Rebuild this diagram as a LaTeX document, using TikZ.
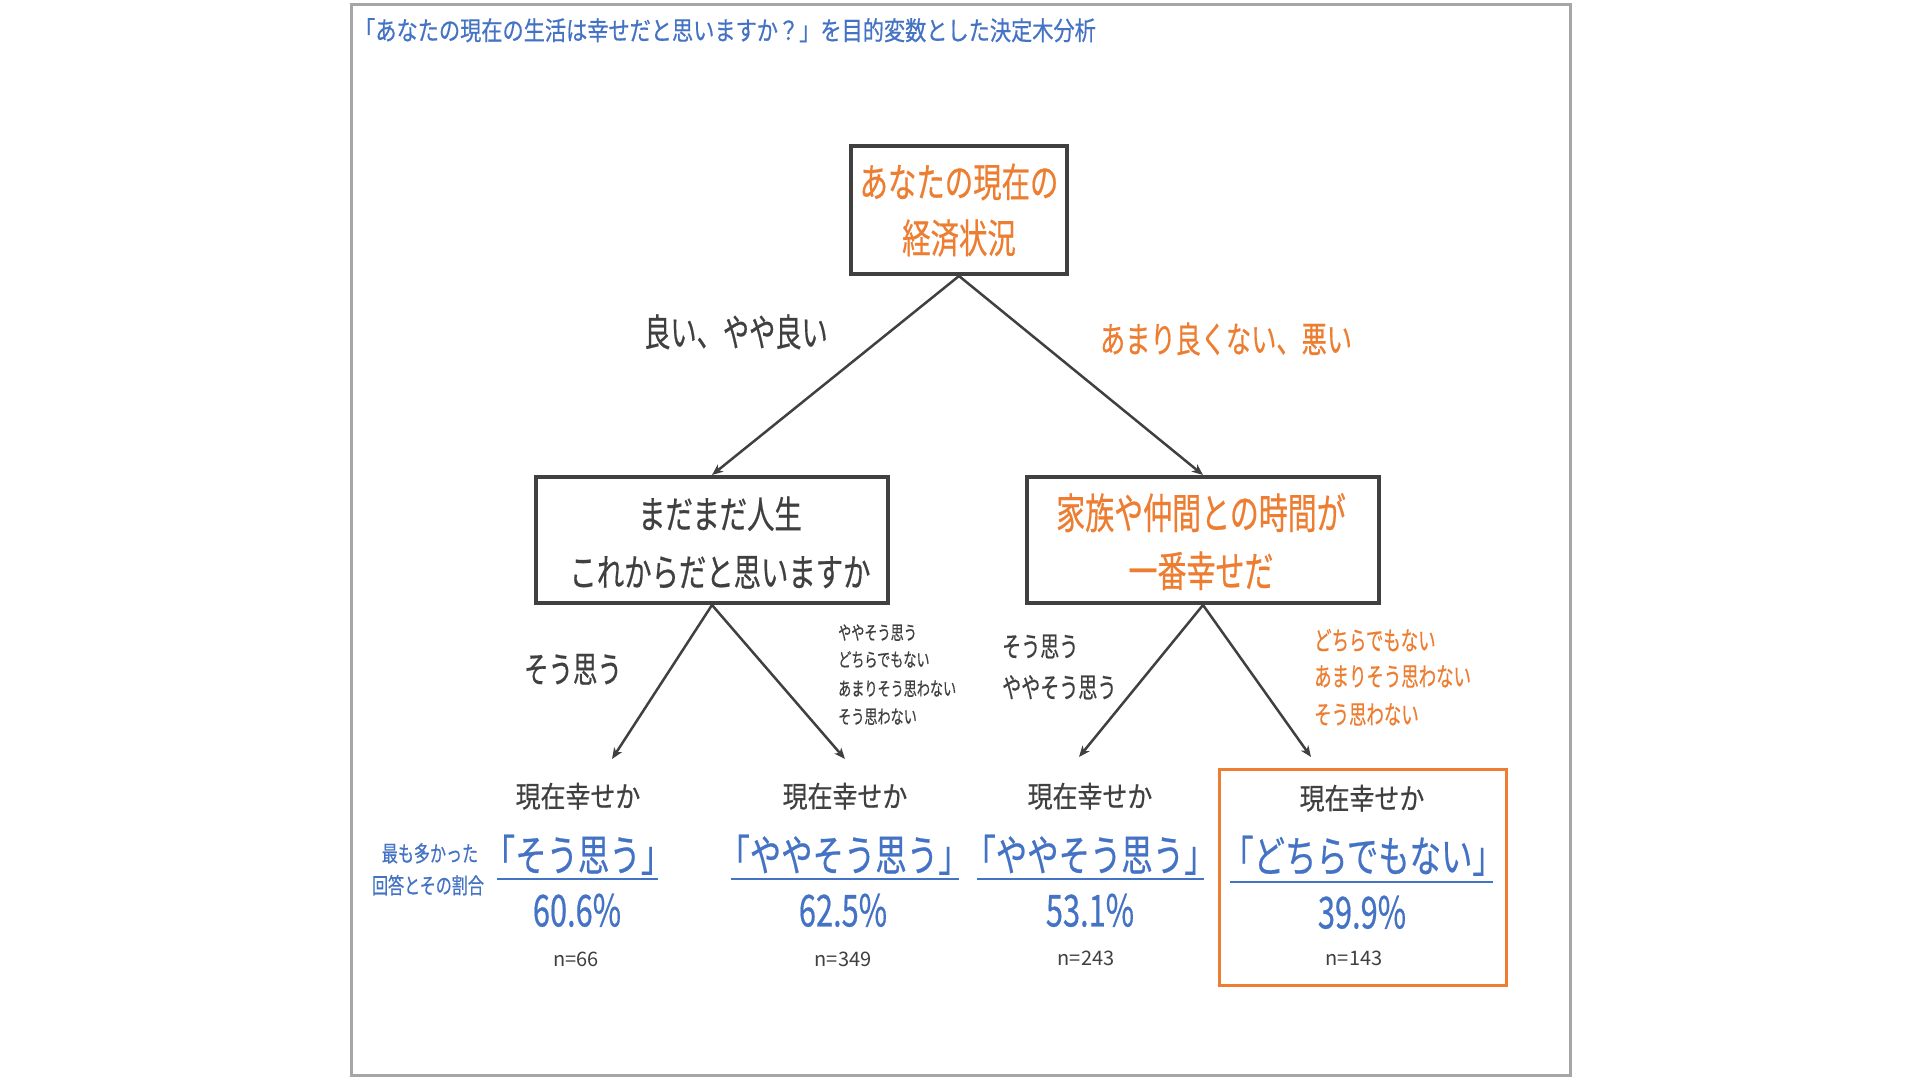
\documentclass[tikz,border=0pt]{standalone}
\usepackage{fontspec}
\setmainfont{Noto Sans CJK JP}[FakeBold=0.6]
\newfontfamily\thinfont{Noto Sans CJK JP}
\usepackage{graphicx}
\usetikzlibrary{arrows.meta}
\definecolor{tblue}{HTML}{4472C4}
\definecolor{torange}{HTML}{ED7D31}
\definecolor{tdark}{HTML}{404040}
\definecolor{tframe}{HTML}{A6A6A6}
\newcommand\sx[2]{\scalebox{#1}[1]{#2}}
\begin{document}
\begin{tikzpicture}[x=1pt,y=-1pt,
  tx/.style={inner sep=0pt, font=\fontsize{#1}{#1}\selectfont, text height=0.8*#1pt, text depth=0.1*#1pt},
  box/.style={draw=tdark, line width=4pt, inner sep=0pt},
  obox/.style={draw=torange, line width=3pt, inner sep=0pt},
  conn/.style={draw=tdark, line width=2.5pt, -{Stealth[length=11pt,width=9pt,inset=3pt]}},
  uline/.style={draw=tblue, line width=2.5pt},
]
\useasboundingbox (0,0) rectangle (1920,1080);
\fill[white] (0,0) rectangle (1920,1080);
\draw[tframe, line width=3pt] (351,4) rectangle (1570,1075);

% title
\node[tx=26, text=tblue, anchor=west] (title) at (354,31) {\sx{0.815}{「あなたの現在の生活は幸せだと思いますか？」を目的変数とした決定木分析}};

% boxes
\node[box, minimum width=216pt, minimum height=128pt] (root) at (959,210) {};
\node[box, minimum width=352pt, minimum height=126pt] (lbox) at (712,540) {};
\node[box, minimum width=352pt, minimum height=126pt] (rbox) at (1203,540) {};
\node[obox, minimum width=287pt, minimum height=216pt] (leaf4) at (1363,877.5) {};

% box texts
\node[tx=40, text=torange] (rt1) at (959,183) {\sx{0.71}{あなたの現在の}};
\node[tx=40, text=torange] (rt2) at (959,239) {\sx{0.71}{経済状況}};
\node[tx=38, text=tdark] (lt1) at (720,515) {\sx{0.72}{まだまだ人生}};
\node[tx=38, text=tdark] (lt2) at (720,573) {\sx{0.72}{これからだと思いますか}};
\node[tx=42, text=torange] (rbt1) at (1201,514) {\sx{0.69}{家族や仲間との時間が}};
\node[tx=42, text=torange] (rbt2) at (1201,572) {\sx{0.69}{一番幸せだ}};

% arrow end points
\coordinate (e1) at (612,759);
\coordinate (e2) at (845,759);
\coordinate (e3) at (1079,757);
\coordinate (e4) at (1311,757);

% connectors
\draw[conn] (root.south) -- (lbox.north);
\draw[conn] (root.south) -- (rbox.north);
\draw[conn] (lbox.south) -- (e1);
\draw[conn] (lbox.south) -- (e2);
\draw[conn] (rbox.south) -- (e3);
\draw[conn] (rbox.south) -- (e4);

% edge labels
\node[tx=38, text=tdark] (el1) at (736,333) {\sx{0.69}{良い、やや良い}};
\node[tx=36, text=torange] (el2) at (1226,340) {\sx{0.7}{あまり良くない、悪い}};
\node[tx=36, text=tdark] (el3) at (573,670) {\sx{0.68}{そう思う}};
\node[tx=19, text=tdark, anchor=west] (el4a) at (838,633) {\sx{0.69}{ややそう思う}};
\node[tx=19, text=tdark, anchor=west] (el4b) at (838,660) {\sx{0.69}{どちらでもない}};
\node[tx=19, text=tdark, anchor=west] (el4c) at (838,689) {\sx{0.69}{あまりそう思わない}};
\node[tx=19, text=tdark, anchor=west] (el4d) at (838,717) {\sx{0.69}{そう思わない}};
\node[tx=28, text=tdark, anchor=west] (el5a) at (1002,647) {\sx{0.68}{そう思う}};
\node[tx=28, text=tdark, anchor=west] (el5b) at (1002,688) {\sx{0.68}{ややそう思う}};
\node[tx=26, text=torange, anchor=west] (el6a) at (1314,641) {\sx{0.67}{どちらでもない}};
\node[tx=26, text=torange, anchor=west] (el6b) at (1314,677) {\sx{0.67}{あまりそう思わない}};
\node[tx=26, text=torange, anchor=west] (el6c) at (1314,715) {\sx{0.67}{そう思わない}};

% side note
\node[tx=22, text=tblue] (note1) at (430,854) {\sx{0.73}{最も多かった}};
\node[tx=22, text=tblue] (note2) at (428,886) {\sx{0.73}{回答とその割合}};

% leaves
\node[tx=29, text=tdark] (q1) at (578,797) {\sx{0.86}{現在幸せか}};
\node[tx=43, text=tblue] (a1) at (578,856) {\sx{0.73}{「そう思う」}};
\draw[uline] (497,879) -- (658,879);
\node[tx=44, text=tblue] (p1) at (577,911) {\sx{0.70}{60.6\%}};
\node[tx=20, text=tdark] (n1) at (576,959) {\thinfont n=66};

\node[tx=29, text=tdark] (q2) at (845,797) {\sx{0.86}{現在幸せか}};
\node[tx=43, text=tblue] (a2) at (844,856) {\sx{0.73}{「ややそう思う」}};
\draw[uline] (731,879) -- (959,879);
\node[tx=44, text=tblue] (p2) at (843,911) {\sx{0.70}{62.5\%}};
\node[tx=20, text=tdark] (n2) at (843,959) {\thinfont n=349};

\node[tx=29, text=tdark] (q3) at (1090,797) {\sx{0.86}{現在幸せか}};
\node[tx=43, text=tblue] (a3) at (1090,856) {\sx{0.73}{「ややそう思う」}};
\draw[uline] (977,879) -- (1204,879);
\node[tx=44, text=tblue] (p3) at (1090,911) {\sx{0.70}{53.1\%}};
\node[tx=20, text=tdark] (n3) at (1086,958) {\thinfont n=243};

\node[tx=29, text=tdark] (q4) at (1362,799) {\sx{0.86}{現在幸せか}};
\node[tx=43, text=tblue] (a4) at (1363,857) {\sx{0.73}{「どちらでもない」}};
\draw[uline] (1230,882) -- (1493,882);
\node[tx=44, text=tblue] (p4) at (1362,913) {\sx{0.70}{39.9\%}};
\node[tx=20, text=tdark] (n4) at (1354,958) {\thinfont n=143};
\end{tikzpicture}
\end{document}
